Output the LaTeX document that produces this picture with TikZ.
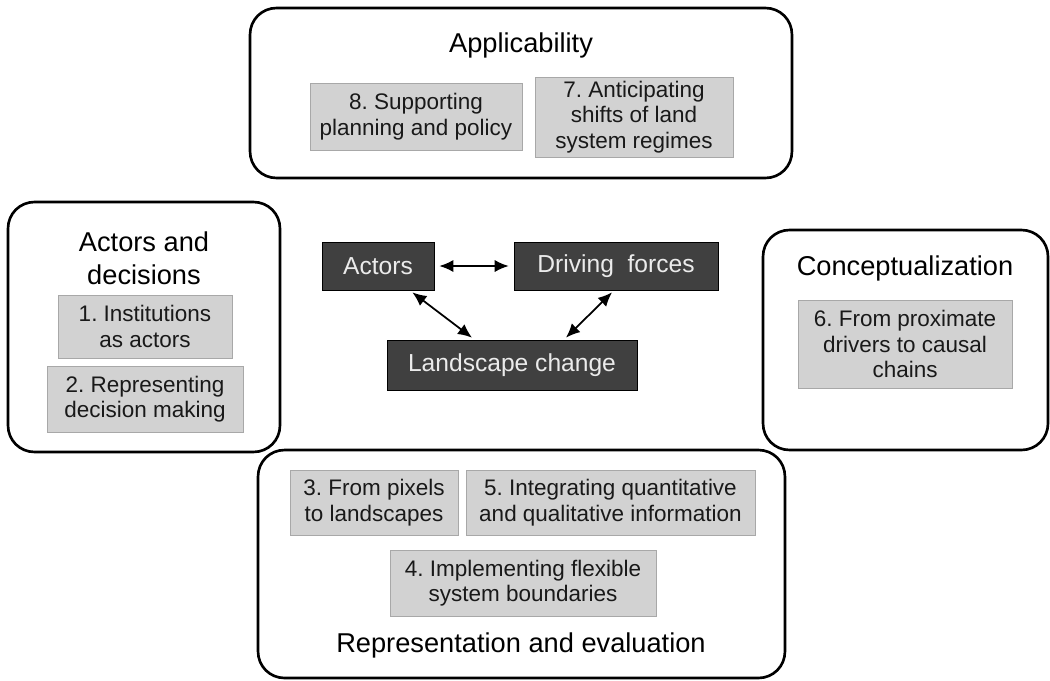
\documentclass[tikz,border=0pt]{standalone}
\usepackage{fontspec}
\setmainfont{Liberation Sans}
\usetikzlibrary{arrows.meta}
\frenchspacing
\definecolor{topicfill}{HTML}{D2D2D2}
\definecolor{topicline}{HTML}{A8A8A8}
\definecolor{corefill}{HTML}{404040}
\begin{document}
\begin{tikzpicture}[x=0.02cm, y=-0.02cm,
	group/.style={draw, line width=1.5pt, rounded corners=15pt},
	topic/.style={draw=topicline, fill=topicfill, align=center, text=black!90, inner sep=0pt,
		font=\fontsize{12.8}{14.5}\selectfont},
	core/.style={draw=black, fill=corefill, text=white!92!black, inner sep=0pt,
		font=\fontsize{14}{16}\selectfont},
	heading/.style={align=center, font=\fontsize{15.5}{16}\selectfont},
	link/.style={{Latex[length=8pt,width=7pt]}-{Latex[length=8pt,width=7pt]}, line width=1pt}]
		\useasboundingbox (0,0) rectangle (1050,680);
		% outer groups
		\node[group, minimum width=10.84cm, minimum height=3.4cm] (appl) at (521,93) {};
		\node[group, minimum width=5.44cm, minimum height=5cm] (actdec) at (144,327) {};
		\node[group, minimum width=5.7cm, minimum height=4.4cm] (concept) at (905.5,340) {};
		\node[group, minimum width=10.54cm, minimum height=4.56cm] (repr) at (521.5,564) {};
		\node[heading] (applT) at (521,45) {Applicability};
		\node[heading] (actdecT) at (144,258) {Actors and\\[3pt]decisions};
		\node[heading] (conceptT) at (905,268) {Conceptualization};
		\node[heading] (reprT) at (521,645) {Representation and evaluation};
		% topics
		\node[topic, minimum width=4.24cm, minimum height=1.34cm] (t8) at (416,116.5) {8. Supporting\\planning and policy};
		\node[topic, minimum width=3.96cm, minimum height=1.6cm] (t7) at (634,117) {7. Anticipating\\shifts of land\\system regimes};
		\node[topic, minimum width=3.48cm, minimum height=1.26cm] (t1) at (145,326.5) {1. Institutions\\as actors};
		\node[topic, minimum width=3.92cm, minimum height=1.32cm] (t2) at (145,399) {2. Representing\\decision making};
		\node[topic, minimum width=4.28cm, minimum height=1.76cm] (t6) at (905,344) {6. From proximate\\drivers to causal\\chains};
		\node[topic, minimum width=3.36cm, minimum height=1.3cm] (t3) at (374,502.5) {3. From pixels\\to landscapes};
		\node[topic, minimum width=5.78cm, minimum height=1.3cm] (t5) at (610.5,502.5) {5. Integrating quantitative\\and qualitative information};
		\node[topic, minimum width=5.32cm, minimum height=1.32cm] (t4) at (523,583) {4. Implementing flexible\\system boundaries};
		% core triangle
		\node[core, minimum width=2.24cm, minimum height=0.96cm] (actors) at (378,266) {Actors};
		\node[core, minimum width=4.08cm, minimum height=0.96cm] (forces) at (616,266) {Driving\ \ forces};
		\node[core, minimum width=5cm, minimum height=1cm] (landscape) at (512,365) {Landscape change};
		\draw [link] ([xshift=0.1cm]actors.east) -- ([xshift=-0.1cm]forces.west);
		\draw [link] ([xshift=-0.44cm,yshift=-0.04cm]actors.south east) -- ([xshift=-0.8cm,yshift=0.04cm]landscape.north);
		\draw [link] ([xshift=-0.08cm,yshift=-0.04cm]forces.south) -- ([xshift=1.08cm,yshift=0.04cm]landscape.north);
	\end{tikzpicture}
\end{document}
